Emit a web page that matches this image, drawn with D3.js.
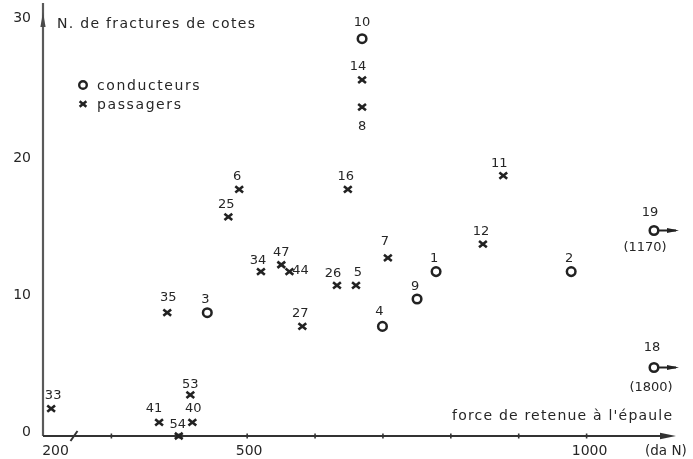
<!DOCTYPE html>
<html>
<head>
<meta charset="utf-8">
<script src="https://cdn.jsdelivr.net/npm/d3@7"></script>
<style>
  body { margin: 0; background: #fff; }
  svg { display: block; }
  text { font-family: "DejaVu Sans", sans-serif; fill: #262626; }
</style>
</head>
<body>
<div id="chart"></div>
<script>
// conducteurs
const driverIds = [10, 3, 4, 9, 1, 2, 19, 18];
const driverForce = [670, 442, 700, 751, 779, 978, 1170, 1800];
const driverFractures = [29, 9, 8, 10, 12, 12, 15, 5];

// passagers
const passengerIds = [14, 8, 16, 6, 25, 11, 12, 7, 26, 5, 34, 47, 44, 35, 27, 33, 41, 54, 40, 53];
const passengerForce = [670, 670, 649, 489, 473, 878, 848, 708, 633, 661, 521, 551, 563, 383, 582, 212, 371, 400, 420, 417];
const passengerFractures = [26, 24, 18, 18, 16, 19, 14, 13, 11, 11, 12, 12.5, 12, 9, 8, 2, 1, 0, 1, 3];

const xTicks = [300, 400, 500, 600, 700, 800, 900, 1000];
const xTickLabels = [200, 500, 1000];
const yTickLabels = [0, 10, 20, 30];

const width = 693;
const height = 459;
const xMax = 1100; // anything beyond is drawn at the arrow

const drivers = driverIds.map((id, i) => ({ id, force: driverForce[i], n: driverFractures[i] }));
const passengers = passengerIds.map((id, i) => ({ id, force: passengerForce[i], n: passengerFractures[i] }));

// label offsets (centre of the number relative to the mark)
const labelNudge = {
  10: [0, -17], 14: [-4, -15], 8: [0, 18], 11: [-4, -13], 7: [-3, -18], 4: [-3, -16],
  26: [-4, -13], 5: [2, -14], 34: [-3, -12], 47: [0, -13], 44: [11, -2], 35: [1, -16],
  33: [2, -14], 41: [-5, -15], 54: [-1, -13], 40: [1, -15], 53: [0, -12],
  19: [-4, -19], 18: [-2, -21]
};

const xScale = d3.scaleLinear()
  .domain([200, xMax])
  .range([43, 654])
  .clamp(true);

const yScale = d3.scaleLinear()
  .domain([0, 30])
  .range([436, 25]);

const svg = d3.select('#chart')
  .append('svg')
    .attr('width', width)
    .attr('height', height);

svg.append('defs')
  .append('filter')
    .attr('id', 'scan')
  .append('feGaussianBlur')
    .attr('stdDeviation', 0.3);

const inner = svg.append('g')
  .attr('filter', 'url(#scan)');

// y axis line + arrow
inner.append('line')
  .attr('x1', 43).attr('x2', 43)
  .attr('y1', 3).attr('y2', yScale(0))
  .attr('stroke', '#5a5a5a')
  .attr('stroke-width', 2.2);

inner.append('path')
  .attr('d', 'M43,12 L45.6,27 L40.4,27 Z')
  .attr('fill', '#4a4a4a');

// x axis line + arrow
inner.append('line')
  .attr('x1', 43).attr('x2', 668)
  .attr('y1', yScale(0)).attr('y2', yScale(0))
  .attr('stroke', '#333')
  .attr('stroke-width', 2.2);

inner.append('path')
  .attr('d', `M676,${yScale(0)} L660,${yScale(0) - 3.2} L660,${yScale(0) + 3.2} Z`)
  .attr('fill', '#333');

// axis break mark
inner.append('line')
  .attr('x1', 70.5).attr('y1', 441)
  .attr('x2', 77.5).attr('y2', 431)
  .attr('stroke', '#333')
  .attr('stroke-width', 2);

// small tick marks
const xTickAxis = d3.axisBottom(xScale)
  .tickValues(xTicks)
  .tickSize(2)
  .tickFormat('');

const tickG = inner.append('g')
  .attr('class', 'axis axis-x-ticks')
  .attr('transform', `translate(0, ${yScale(0)})`)
  .call(xTickAxis);
tickG.select('.domain').remove();
tickG.selectAll('.tick line')
  .attr('y1', -2.5)
  .attr('y2', 2.5)
  .attr('stroke', '#333')
  .attr('stroke-width', 1.6);

// x labels
const xAxis = d3.axisBottom(xScale)
  .tickValues(xTickLabels)
  .tickSize(0)
  .tickPadding(9)
  .tickFormat(d => String(d));

const xg = inner.append('g')
  .attr('class', 'axis axis-x')
  .attr('transform', `translate(0, ${yScale(0)})`)
  .call(xAxis);
xg.select('.domain').remove();
xg.selectAll('.tick text')
  .attr('font-family', '"DejaVu Sans", sans-serif')
  .attr('font-size', 14)
  .attr('fill', '#262626')
  .attr('dx', d => d === 200 ? 12 : (d === 1000 ? 3 : 2));

// y labels
const yAxis = d3.axisLeft(yScale)
  .tickValues(yTickLabels)
  .tickSize(0)
  .tickPadding(12);

const yg = inner.append('g')
  .attr('class', 'axis axis-y')
  .attr('transform', 'translate(43, 0)')
  .call(yAxis);
yg.select('.domain').remove();
yg.selectAll('.tick text')
  .attr('font-family', '"DejaVu Sans", sans-serif')
  .attr('font-size', 14)
  .attr('fill', '#262626')
  .attr('dy', d => d === 30 ? '-0.25em' : '-0.05em');

// axis titles
inner.append('text')
  .attr('x', 57).attr('y', 28)
  .attr('font-size', 14)
  .attr('letter-spacing', 1.3)
  .text('N. de fractures de cotes');

inner.append('text')
  .attr('x', 452).attr('y', 420)
  .attr('font-size', 14)
  .attr('letter-spacing', 1.2)
  .text("force de retenue à l'épaule");

inner.append('text')
  .attr('x', 645).attr('y', 455)
  .attr('font-size', 13.5)
  .text('(da N)');

// legend
const cross = s => `M${-s},${-s * 0.8}L${s},${s * 0.8}M${-s},${s * 0.8}L${s},${-s * 0.8}`;

inner.append('circle')
  .attr('cx', 83).attr('cy', 85).attr('r', 3.8)
  .attr('fill', 'none').attr('stroke', '#222').attr('stroke-width', 2.4);
inner.append('text')
  .attr('x', 97).attr('y', 90)
  .attr('font-size', 14)
  .attr('letter-spacing', 1.6)
  .text('conducteurs');

inner.append('path')
  .attr('transform', 'translate(83, 104)')
  .attr('d', cross(3.4))
  .attr('stroke', '#222').attr('stroke-width', 2.5);
inner.append('text')
  .attr('x', 97).attr('y', 109)
  .attr('font-size', 14)
  .attr('letter-spacing', 1.6)
  .text('passagers');

// passengers
inner.selectAll('.cross')
    .data(passengers)
  .enter().append('path')
    .attr('class', 'cross')
    .attr('transform', d => `translate(${xScale(d.force)}, ${yScale(d.n)})`)
    .attr('d', cross(3.9))
    .attr('stroke', '#222')
    .attr('stroke-width', 2.6);

// drivers
inner.selectAll('.dot')
    .data(drivers)
  .enter().append('circle')
    .attr('class', 'dot')
    .attr('cx', d => xScale(d.force))
    .attr('cy', d => yScale(d.n))
    .attr('r', 4.3)
    .attr('fill', 'none')
    .attr('stroke', '#222')
    .attr('stroke-width', 2.5);

// off-scale drivers: arrow + real force in brackets
const offScale = drivers.filter(d => d.force > xMax);

inner.selectAll('.off-line')
    .data(offScale)
  .enter().append('line')
    .attr('class', 'off-line')
    .attr('x1', d => xScale(d.force) + 4.5)
    .attr('x2', d => xScale(d.force) + 22)
    .attr('y1', d => yScale(d.n))
    .attr('y2', d => yScale(d.n))
    .attr('stroke', '#222')
    .attr('stroke-width', 2);

inner.selectAll('.off-head')
    .data(offScale)
  .enter().append('path')
    .attr('class', 'off-head')
    .attr('transform', d => `translate(${xScale(d.force)}, ${yScale(d.n)})`)
    .attr('d', 'M25,0 L13,-2.6 L13,2.6 Z')
    .attr('fill', '#222');

inner.selectAll('.off-label')
    .data(offScale)
  .enter().append('text')
    .attr('class', 'off-label')
    .attr('x', d => xScale(d.force) + (d.id === 19 ? -9 : -3))
    .attr('y', d => yScale(d.n) + (d.id === 19 ? 16 : 19) + 4.7)
    .attr('text-anchor', 'middle')
    .attr('font-size', 13)
    .text(d => `(${d.force})`);

// point numbers
const labelled = passengers.concat(drivers);

inner.selectAll('.num')
    .data(labelled)
  .enter().append('text')
    .attr('class', 'num')
    .attr('x', d => xScale(d.force) + (labelNudge[d.id] || [-2, -14])[0])
    .attr('y', d => yScale(d.n) + (labelNudge[d.id] || [-2, -14])[1] + 4.7)
    .attr('text-anchor', 'middle')
    .attr('font-size', 13)
    .text(d => d.id);
</script>
</body>
</html>
